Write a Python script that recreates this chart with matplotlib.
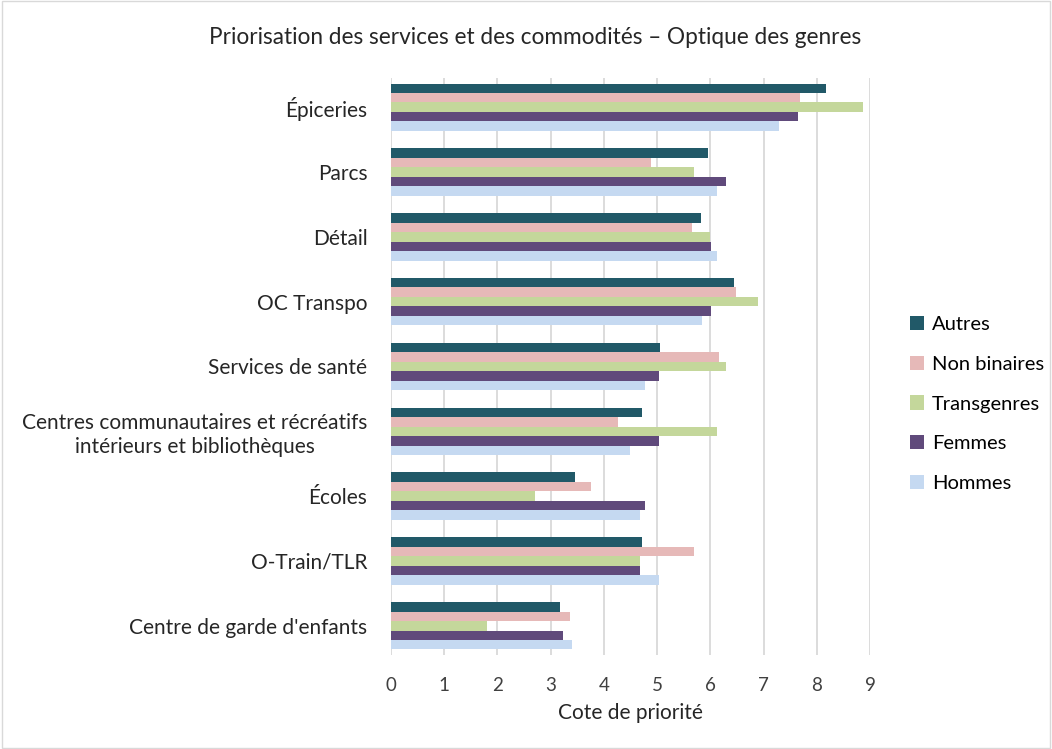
import numpy as np
import matplotlib
matplotlib.use("Agg")
from matplotlib import pyplot as plt

plt.rcParams['font.family'] = ['Lato', 'DejaVu Sans']

categories = ["Épiceries", "Parcs", "Détail", "OC Transpo", "Services de santé",
              "Centres communautaires et récréatifs\nintérieurs et bibliothèques",
              "Écoles", "O-Train/TLR", "Centre de garde d'enfants"]
series = ["Autres", "Non binaires", "Transgenres", "Femmes", "Hommes"]
autres = [8.17, 5.95, 5.82, 6.45, 5.05, 4.71, 3.46, 4.72, 3.18]
non_binaires = [7.68, 4.88, 5.65, 6.49, 6.17, 4.27, 3.75, 5.70, 3.37]
transgenres = [8.86, 5.70, 6.00, 6.90, 6.30, 6.12, 2.70, 4.67, 1.80]
femmes = [7.64, 6.30, 6.02, 6.02, 5.03, 5.03, 4.77, 4.67, 3.24]
hommes = [7.29, 6.12, 6.12, 5.85, 4.77, 4.49, 4.67, 5.03, 3.41]
colors = ["#215968", "#E6B9B8", "#C4D79B", "#604A7B", "#C5D9F1"]

values = [autres, non_binaires, transgenres, femmes, hommes]

fig = plt.figure(figsize=(10.52, 7.49), dpi=100)
ax = fig.add_axes([391/1052, 1-655/749, (870-391)/1052, (655-78)/749])

y = np.arange(len(categories))
h = 0.146
for i, (name, vals, c) in enumerate(zip(series, values, colors)):
    ax.barh(y - 2*h + i*h, vals, height=h, color=c, label=name, zorder=3)

ax.set_xlim(0, 9)
ax.set_ylim(len(categories) - 0.55, -0.45)
ax.set_xticks(range(10))
ax.set_yticks(y)
ax.set_yticklabels(categories, fontsize=15, color="#262626", multialignment="center")
ax.tick_params(axis='x', labelsize=13.5, colors="#404040", length=0, pad=16)
ax.tick_params(axis='y', length=0, pad=17)
ax.grid(axis='x', color="#D9D9D9", linewidth=1.3, zorder=0)
for s in ax.spines.values():
    s.set_visible(False)
ax.set_xlabel("Cote de priorité", fontsize=15, color="#262626", labelpad=6)

fig.text(535/1052, 1-38/749, "Priorisation des services et des commodités – Optique des genres",
         ha='center', va='center', fontsize=16.3, color="#262626")

ax.legend(loc='center left', bbox_to_anchor=(1.045, 0.435), frameon=False, fontsize=14.5,
          handlelength=0.7, handleheight=0.7, labelspacing=1.13, handletextpad=0.4)

fig.patches.append(plt.Rectangle((0.002, 0.002), 0.996, 0.996, transform=fig.transFigure,
                                 fill=False, edgecolor="#D9D9D9", linewidth=1))

fig.savefig("out.png", dpi=100)
